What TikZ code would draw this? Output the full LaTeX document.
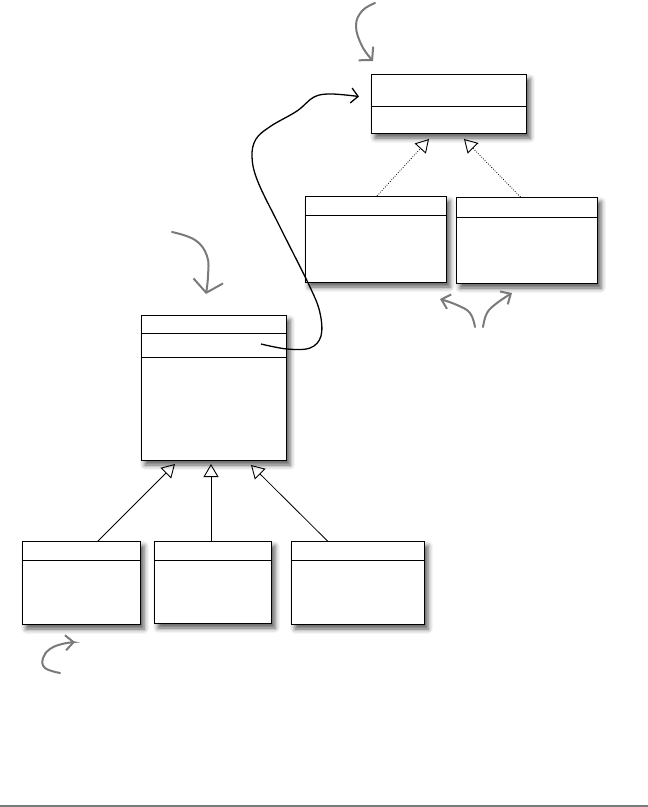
\documentclass[tikz,border=0pt]{standalone}
\usetikzlibrary{arrows.meta,shadows.blur}
\definecolor{penGray}{HTML}{7A7A7A}
\tikzset{
  cls/.style={draw=black, line width=0.9pt, fill=white, inner sep=0pt, outer sep=0pt, anchor=north west,
    blur shadow={shadow xshift=4pt, shadow yshift=-5pt, shadow blur radius=5pt, shadow opacity=65}},
  divln/.style={line width=0.9pt},
  gen/.style={line width=0.8pt, -{Triangle[open, length=13pt, width=15pt, line width=0.9pt]}},
  real/.style={gen, dash pattern=on 0.8pt off 1.6pt},
  conn/.style={line width=1.3pt, -{Straight Barb[length=7pt, width=15pt, line width=1.3pt]}},
  note/.style={draw=penGray, line width=2pt, line cap=round, -{Straight Barb[length=9pt, width=20pt, line width=2pt]}}
}
\newcommand\umldiv[2]{\draw[divln] ([yshift=-#2]#1.north west) -- ([yshift=-#2]#1.north east);}
\begin{document}
\begin{tikzpicture}[x=1pt, y=-1pt]
\useasboundingbox (0,0) rectangle (648,807);
% classes
\node[cls, minimum width=155pt, minimum height=59pt] (A) at (371,74) {};
\umldiv{A}{32pt}
\node[cls, minimum width=141pt, minimum height=86pt] (B1) at (305,196) {};
\umldiv{B1}{19pt}
\node[cls, minimum width=141pt, minimum height=86pt] (B2) at (456,197) {};
\umldiv{B2}{20pt}
\node[cls, minimum width=145pt, minimum height=145pt] (C) at (141,315) {};
\umldiv{C}{18pt}
\umldiv{C}{42pt}
\node[cls, minimum width=118pt, minimum height=83pt] (D1) at (22,541) {};
\umldiv{D1}{19pt}
\node[cls, minimum width=117pt, minimum height=82pt] (D2) at (154,541) {};
\umldiv{D2}{19pt}
\node[cls, minimum width=133pt, minimum height=83pt] (D3) at (291,541) {};
\umldiv{D3}{19pt}
% realization arrows
\draw[real] ([xshift=1.5pt]B1.north) -- ([xshift=-19.5pt,yshift=-6pt]A.south);
\draw[real] ([xshift=-6pt]B2.north) -- ([xshift=15.5pt,yshift=-6pt]A.south);
% generalization arrows
\draw[gen] ([xshift=17pt]D1.north) -- ([xshift=-38.5pt,yshift=-4pt]C.south);
\draw[gen] ([xshift=-1.5pt]D2.north) -- ([xshift=-2.5pt,yshift=-4pt]C.south);
\draw[gen] ([xshift=-30pt]D3.north) -- ([xshift=37.5pt,yshift=-5pt]C.south);
% association curve
\coordinate (Cs) at ([xshift=120pt,yshift=-29pt]C.north west);
\coordinate (Ae) at ([xshift=-12pt,yshift=7pt]A.west);
\draw[conn] plot[smooth, tension=0.6] coordinates {(Cs) (287,349) (310,348) (321,336) (320,313) (310,287) (280,227) (258,182) (252,157) (256,139) (271,126) (297,111) (314,97) (331,94) (Ae)};
% hand-drawn annotation arrows
\draw[note] plot[smooth, tension=0.7] coordinates {(375,3) (362,11) (356,26) (362,46) (373,61)};
\draw[note, -{Straight Barb[length=12pt, width=30pt, line width=2pt]}] plot[smooth, tension=0.7] coordinates {(172,232) (195,240) (207,256) (208,276) (206,294)};
\draw[note, -{Straight Barb[length=8pt, width=15pt, line width=2pt]}] plot[smooth, tension=0.7] coordinates {(475,327) (470,313) (457,305) (440,299)};
\draw[note, -{Straight Barb[length=8pt, width=15pt, line width=2pt]}] plot[smooth, tension=0.7] coordinates {(483,327) (487,313) (497,303) (512,293)};
\draw[note, -{Straight Barb[length=8pt, width=15pt, line width=2pt]}] plot[smooth, tension=0.7] coordinates {(60,673) (45,668) (43,658) (50,649) (62,644) (75,642)};
% bottom rule
\draw[penGray, line width=1.3pt] (0,806) -- (648,806);
\end{tikzpicture}
\end{document}
